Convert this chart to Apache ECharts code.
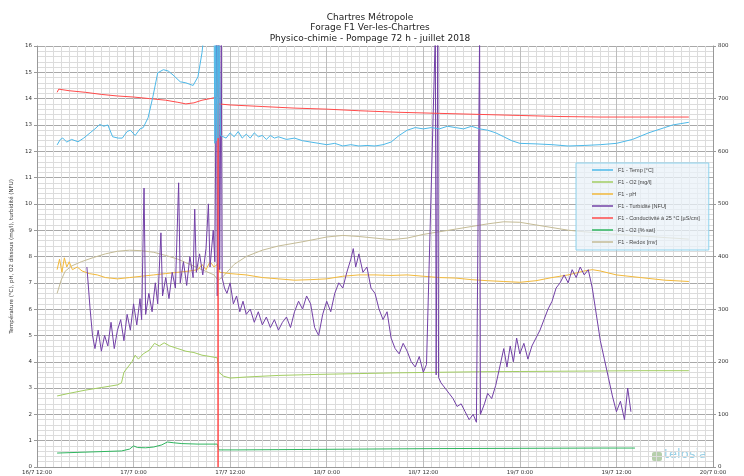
<!DOCTYPE html>
<html>
<head>
<meta charset="utf-8">
<script src="https://cdn.jsdelivr.net/npm/echarts@6/dist/echarts.min.js"></script>
<style>
  html, body { margin: 0; padding: 0; background: #fff; }
  #main { width: 744px; height: 476px; }
</style>
</head>
<body>
<div id="main"></div>
<script>
// temps en heures depuis le 16/7 12:00
var seriesNames = ['F1 - Temp [°C]', 'F1 - O2 [mg/l]', 'F1 - pH', 'F1 - Turbidité [NFU]',
  'F1 - Conductivité à 25 °C [µS/cm]', 'F1 - O2 [% sat]', 'F1 - Redox [mv]'];

var tempData = [[2.5,12.24],[2.9,12.45],[3.2,12.5],[3.7,12.35],[4.3,12.45],[5.1,12.36],[5.8,12.5],[6.6,12.7],
  [7.2,12.85],[7.8,13.02],[8.3,12.95],[8.8,13.0],[9.4,12.55],[10.1,12.5],[10.6,12.5],[11.2,12.75],[11.6,12.8],
  [12.2,12.6],[12.8,12.85],[13.2,12.9],[13.8,13.27],[14.4,14.07],[15.0,14.98],[15.7,15.1],[16.3,15.05],[16.9,14.9],
  [17.8,14.64],[18.5,14.6],[19.4,14.5],[20.0,14.83],[20.5,15.74],[20.7,16.3],[21.5,17.5],[22.0,17.5],[22.1,12.3],
  [22.2,17.5],[22.3,12.4],[22.4,17.5],[22.5,12.5],[22.6,17],[22.8,12.6],
  [23,12.6],[23.5,12.5],[24,12.7],[24.5,12.55],[25,12.75],[25.5,12.5],[26,12.65],[26.5,12.5],[27,12.7],[27.5,12.55],
  [28,12.6],[28.5,12.45],[29,12.6],[29.5,12.5],[30,12.55],[31,12.45],[32,12.5],[33,12.4],[34,12.35],[35,12.3],
  [36,12.25],[37,12.3],[38,12.2],[39,12.25],[40,12.2],[41,12.22],[42,12.2],[43,12.25],[44,12.35],[45,12.6],
  [46,12.8],[47,12.9],[48,12.85],[49,12.9],[50,12.85],[51,12.95],[52,12.9],[53,12.85],[54,12.95],[55,12.85],
  [56,12.8],[57,12.7],[58,12.55],[59,12.4],[60,12.3],[62,12.28],[64,12.25],[66,12.2],[68,12.22],[70,12.25],
  [72,12.3],[74,12.45],[76,12.7],[78,12.9],[79,13.0],[80,13.05],[81,13.1]];

var o2mgData = [[2.5,2.7],[4,2.8],[6,2.92],[8,3.02],[10,3.12],[10.5,3.2],[10.8,3.6],[11.3,3.8],[11.8,4.0],
  [12.2,4.25],[12.6,4.1],[13.2,4.3],[14,4.45],[14.6,4.7],[15.2,4.6],[15.8,4.72],[16.5,4.6],[17.5,4.5],[18.5,4.4],
  [19.5,4.35],[20.5,4.25],[21.5,4.2],[22.4,4.15],[22.6,3.6],[23.2,3.45],[24,3.38],[26,3.42],[30,3.48],[35,3.52],
  [40,3.55],[45,3.58],[50,3.6],[55,3.62],[60,3.63],[65,3.64],[70,3.65],[75,3.66],[81,3.66]];

var phData = [[2.5,7.5],[2.8,7.9],[3.1,7.4],[3.4,7.95],[3.7,7.6],[4.0,7.8],[4.4,7.5],[5.0,7.6],[5.6,7.45],
  [6.5,7.35],[7.5,7.3],[8.5,7.2],[10,7.15],[11.5,7.2],[13,7.25],[14.5,7.3],[16,7.35],[17.5,7.4],[19,7.45],
  [20,7.5],[20.5,7.7],[21,7.5],[21.5,7.8],[22,7.6],[22.4,7.7],[22.7,7.4],[24,7.35],[26,7.3],[28,7.2],[30,7.15],
  [32,7.1],[34,7.12],[36,7.15],[38,7.25],[40,7.3],[42,7.3],[44,7.28],[46,7.3],[48,7.25],[50,7.2],[52,7.18],
  [54,7.12],[56,7.08],[58,7.05],[60,7.02],[62,7.08],[64,7.2],[66,7.3],[68,7.45],[69,7.5],[70,7.45],[72,7.3],
  [75,7.2],[78,7.1],[81,7.05]];

var turbData = [[6.2,7.6],[6.6,6.0],[6.9,5.0],[7.2,4.5],[7.6,5.2],[8.0,4.4],[8.4,5.0],[8.8,4.6],[9.2,5.5],
  [9.6,4.5],[10.0,5.2],[10.4,5.6],[10.8,4.8],[11.2,5.8],[11.6,5.2],[12.0,6.2],[12.4,5.4],[12.8,6.4],[13.0,5.6],
  [13.3,10.6],[13.5,5.8],[13.9,6.6],[14.3,5.9],[14.7,7.0],[15.0,6.2],[15.4,8.9],[15.6,6.5],[16.0,7.2],[16.4,6.4],
  [16.8,7.4],[17.2,6.8],[17.6,10.8],[17.8,7.0],[18.2,7.8],[18.6,6.9],[19.0,8.0],[19.4,7.2],[19.6,9.8],[19.8,7.4],
  [20.2,8.1],[20.6,7.3],[21.0,8.3],[21.3,10.0],[21.5,7.6],[21.9,9.0],[22.1,7.8],[22.3,16.5],[22.4,6.5],[22.6,16.5],
  [22.7,7.5],[22.9,16.5],[23.0,7.2],[23.3,6.8],[23.6,6.6],[24.0,7.0],[24.4,6.2],[24.8,6.5],[25.2,5.9],[25.6,6.3],
  [26.0,5.8],[26.5,6.0],[27.0,5.5],[27.5,5.9],[28.0,5.4],[28.5,5.7],[29.0,5.3],[29.5,5.6],[30.0,5.2],[30.5,5.5],
  [31.0,5.7],[31.5,5.3],[32.0,5.9],[32.5,6.3],[33.0,6.0],[33.5,6.5],[34.0,6.2],[34.5,5.3],[35.0,5.0],[35.5,5.8],
  [36.0,6.3],[36.5,5.9],[37.0,6.6],[37.5,7.0],[38.0,6.8],[38.5,7.4],[39.0,7.9],[39.3,8.3],[39.6,7.6],[40.0,8.1],
  [40.5,7.4],[41.0,7.6],[41.5,6.8],[42.0,6.6],[42.5,6.0],[43.0,5.6],[43.5,5.9],[44.0,4.9],[44.5,4.5],[45.0,4.3],
  [45.5,4.7],[46.0,4.4],[46.5,4.0],[47.0,3.8],[47.5,4.2],[48.0,3.6],[48.4,3.9],[49.5,16.5],[49.6,3.5],[49.8,16.5],
  [49.9,3.4],[50.2,3.2],[50.7,3.0],[51.2,2.8],[51.7,2.6],[52.2,2.3],[52.7,2.4],[53.2,2.1],[53.7,1.8],[54.2,2.0],
  [54.6,1.7],[55.0,16.5],[55.1,2.0],[55.6,2.4],[56.0,2.8],[56.5,2.6],[57.0,3.1],[57.5,3.8],[58.0,4.5],[58.4,3.8],
  [58.8,4.6],[59.2,4.0],[59.6,4.9],[60.0,4.3],[60.5,4.7],[61.0,4.1],[61.5,4.6],[62.0,4.9],[62.5,5.2],[63.0,5.6],
  [63.5,6.0],[64.0,6.3],[64.5,6.8],[65.0,7.0],[65.5,7.3],[66.0,7.0],[66.5,7.5],[67.0,7.2],[67.5,7.6],[68.0,7.3],
  [68.5,7.5],[69.0,6.8],[69.5,5.8],[70.0,4.8],[70.5,4.1],[71.0,3.4],[71.5,2.7],[72.0,2.1],[72.5,2.5],[73.0,1.8],
  [73.4,3.0],[73.8,2.1]];

var condData = [[2.5,712],[2.7,718],[4,715],[6,712],[8,708],[10,705],[12,703],[14,700],[16,697],[17.5,693],
  [18.5,690],[19.5,692],[20.5,697],[21.5,700],[22.4,703],[22.5,900],[22.5,0],[22.5,690],[24,688],[28,685],
  [32,682],[36,680],[40,677],[45,674],[50,672],[55,670],[60,668],[65,666],[70,665],[75,665],[81,665]];

var o2satData = [[2.5,26.5],[10.5,30.5],[11.5,34],[12,40],[12.5,37],[13.5,36.5],[14.5,38],[15.5,42],[16.2,47.5],
  [17,46],[18,44.5],[20,43.5],[22.4,43.5],[22.6,32.5],[25,32.5],[30,33],[40,34],[50,35],[60,35.5],[70,36],[74.3,36]];

var redoxData = [[2.5,330],[3.0,355],[3.5,372],[4.3,382],[5.5,390],[7.0,398],[8.5,405],[10,410],[11.5,412],
  [13,411],[14.5,408],[16,402],[17.5,395],[19,385],[20.5,375],[22,365],[22.5,355],[23,360],[24.5,385],[26,400],
  [28,412],[30,420],[33,428],[36,437],[38,440],[40,438],[42,435],[44,432],[46,435],[48,442],[50,447],[52,452],
  [54,457],[56,462],[58,466],[60,465],[62,460],[64,455],[66,450],[68,447],[71,443],[74,440],[78,436],[81,433]];

var colors = ['#4db8e8', '#a2cd62', '#f2b93b', '#7240a6', '#ff4a4a', '#2fb55f', '#c4bb96'];

var base = new Date(2018, 6, 16, 12, 0, 0).getTime();
function toTs(list) {
  return list.map(function (p) { return [base + p[0] * 3600000, p[1]]; });
}

var myChart = echarts.init(document.getElementById('main'));

function mkSeries(i, data, axis) {
  return {
    name: seriesNames[i],
    type: 'line',
    yAxisIndex: axis,
    data: toTs(data),
    symbol: 'none',
    lineStyle: { width: 1, color: colors[i] },
    itemStyle: { color: colors[i] }
  };
}

var option = {
  backgroundColor: '#fff',
  animation: false,
  textStyle: { fontFamily: 'DejaVu Sans' },
  title: {
    text: 'Chartres Métropole\nForage F1 Ver-les-Chartres\nPhysico-chimie - Pompage 72 h - juillet 2018',
    left: 365,
    top: 7,
    textAlign: 'center',
    textStyle: { fontSize: 9, fontWeight: 'normal', color: '#222', lineHeight: 10.5, fontFamily: 'DejaVu Sans' }
  },
  legend: {
    orient: 'vertical',
    left: 576,
    top: 163,
    padding: [3, 9, 4, 16],
    backgroundColor: 'rgba(234,242,248,0.75)',
    borderColor: '#8dd3ee',
    borderWidth: 1,
    borderRadius: 0,
    icon: 'rect',
    itemWidth: 21,
    itemHeight: 1.5,
    itemGap: 4,
    data: seriesNames,
    textStyle: { fontSize: 5.5, color: '#444', lineHeight: 8, fontFamily: 'Liberation Sans' }
  },
  grid: { left: 37, right: 31, top: 46, bottom: 9, containLabel: false },
  xAxis: {
    type: 'time',
    min: base,
    max: base + 84 * 3600000,
    interval: 12 * 3600000,
    axisLine: { lineStyle: { color: '#999' } },
    axisTick: { show: false },
    axisLabel: {
      fontSize: 5.5,
      color: '#333',
      margin: 3,
      hideOverlap: false,
      showMinLabel: true,
      showMaxLabel: true,
      formatter: function (v) {
        var d = new Date(v);
        var m = d.getMinutes();
        return d.getDate() + '/' + (d.getMonth() + 1) + ' ' + d.getHours() + ':' + (m < 10 ? '0' + m : m);
      }
    },
    splitLine: { show: true, lineStyle: { color: '#bdbdbd', width: 1 } },
    minorTick: { show: false, splitNumber: 12 },
    minorSplitLine: { show: true, lineStyle: { color: '#dcdcdc', width: 1 } }
  },
  yAxis: [
    {
      type: 'value',
      min: 0,
      max: 16,
      interval: 1,
      name: 'Température (°C), pH, O2 dissous (mg/l), turbidité (NFU)',
      nameLocation: 'middle',
      nameGap: 22,
      nameTextStyle: { fontSize: 5.5, color: '#333' },
      axisLine: { show: true, lineStyle: { color: '#999' } },
      axisTick: { show: true, length: 3, lineStyle: { color: '#999' } },
      axisLabel: { fontSize: 5.5, color: '#333', margin: 5 },
      splitLine: { show: true, lineStyle: { color: '#a8a8a8', width: 1 } },
      minorTick: { show: false, splitNumber: 5 },
      minorSplitLine: { show: true, lineStyle: { color: '#dcdcdc', width: 1 } }
    },
    {
      type: 'value',
      min: 0,
      max: 800,
      interval: 100,
      position: 'right',
      axisLine: { show: true, lineStyle: { color: '#999' } },
      axisTick: { show: true, length: 3, lineStyle: { color: '#999' } },
      axisLabel: { fontSize: 5.5, color: '#333', margin: 5 },
      splitLine: { show: false }
    }
  ],
  graphic: [
    {
      type: 'text',
      left: 664,
      top: 448,
      style: { text: 'telosia', fontSize: 13, fontFamily: 'DejaVu Sans', fill: 'rgba(70,170,210,0.55)' }
    },
    {
      type: 'rect',
      left: 652,
      top: 452,
      shape: { width: 10, height: 9, r: 2 },
      style: { fill: 'rgba(110,160,90,0.5)' }
    }
  ],
  series: [
    mkSeries(6, redoxData, 1),
    mkSeries(1, o2mgData, 0),
    mkSeries(5, o2satData, 1),
    mkSeries(2, phData, 0),
    mkSeries(3, turbData, 0),
    mkSeries(4, condData, 1),
    mkSeries(0, tempData, 0)
  ]
};

myChart.setOption(option);
</script>
</body>
</html>
